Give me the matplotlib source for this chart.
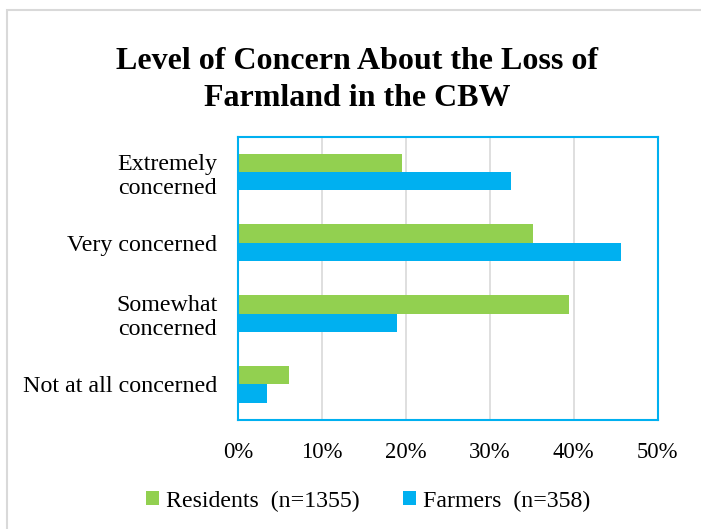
import numpy as np
import matplotlib
matplotlib.use("Agg")
import matplotlib.pyplot as plt
from matplotlib.patches import Patch, Rectangle
from matplotlib.ticker import FuncFormatter

plt.rcParams['font.family'] = ['Liberation Serif', 'DejaVu Serif']

categories = ['Extremely\nconcerned', 'Very concerned', 'Somewhat\nconcerned', 'Not at all concerned']
residents = [19.5, 35.2, 39.4, 6.1]
farmers = [32.5, 45.6, 18.9, 3.5]
series_names = ['Residents  (n=1355)', 'Farmers  (n=358)']
green = '#92D050'
blue = '#00B0F0'

fig = plt.figure(figsize=(7.01, 5.29), dpi=100)
# outer chart-area border (cropped on the right and bottom)
fig.patches.append(Rectangle((7 / 701, -0.1), 1.2, 1 - 10 / 529 + 0.1,
                             transform=fig.transFigure, fill=False,
                             edgecolor='#D9D9D9', linewidth=1.5))

ax = fig.add_axes([238 / 701, 1 - 419.7 / 529, (657.7 - 238) / 701, (419.7 - 136.7) / 529])

y = np.arange(len(categories))
h = 0.26
ax.barh(y - h / 2, residents, height=h, color=green, label=series_names[0])
ax.barh(y + h / 2, farmers, height=h, color=blue, label=series_names[1])

ax.set_xlim(0, 50)
ax.set_ylim(len(categories) - 0.5, -0.5)
ax.set_xticks(np.arange(0, 51, 10))
ax.xaxis.set_major_formatter(FuncFormatter(lambda v, p: f'{v:.0f}%'))
ax.set_yticks(y)
ax.set_yticklabels(categories, ha='right', multialignment='right')
ax.tick_params(axis='both', length=0)
ax.tick_params(axis='y', pad=15, labelsize=17.3)
ax.tick_params(axis='x', pad=16, labelsize=16.3)
ax.grid(axis='x', color='#D9D9D9', linewidth=1.2)
ax.set_axisbelow(True)
for s in ax.spines.values():
    s.set_color(blue)
    s.set_linewidth(1.5)

fig.text(357 / 701, 1 - 80 / 529, 'Level of Concern About the Loss of\nFarmland in the CBW',
         ha='center', va='center', fontsize=23.0, fontweight='bold', linespacing=1.33)

handles = [Patch(facecolor=green, label=series_names[0]),
           Patch(facecolor=blue, label=series_names[1])]
fig.legend(handles=handles, loc='center', bbox_to_anchor=(368 / 701, 1 - 501 / 529),
           ncol=2, frameon=False, fontsize=17.2, handlelength=0.55, handleheight=0.55,
           handletextpad=0.3, columnspacing=1.8)

fig.savefig('out.png', dpi=100)
